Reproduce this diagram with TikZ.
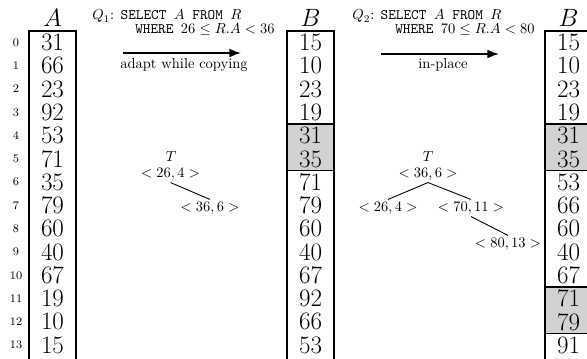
\documentclass[tikz,border=0pt]{standalone}
\usetikzlibrary{arrows.meta}
\begin{document}
\begin{tikzpicture}[x=0.69pt,y=-0.69pt,
  colbox/.style={line width=1pt},
  hl/.style={fill=gray!35,draw,line width=1pt},
  val/.style={font=\LARGE,inner sep=0pt},
  idx/.style={font=\footnotesize,inner sep=0pt},
  hdr/.style={font=\LARGE,inner sep=0pt},
  tl/.style={inner sep=1.5pt},
  tedge/.style={line width=0.6pt},
  bigarrow/.style={line width=1pt,-{Latex[length=8pt,width=6pt]}},
  qtext/.style={anchor=base west,inner sep=0pt,align=left},
  albl/.style={anchor=base,inner sep=0pt},
]
\path[use as bounding box] (0,0) rectangle (587,358);
\clip (0,0) rectangle (587,358);

% highlighted ranges
\path[hl] (287,124.1) rectangle (334,170.6);
\path[hl] (545,124.1) rectangle (600,170.6);
\path[hl] (545,287) rectangle (600,333.5);

% column boxes
\draw[colbox] (29,365) -- (29,31) -- (76,31) -- (76,365);
\draw[colbox] (287,365) -- (287,31) -- (334,31) -- (334,365);
\draw[colbox] (545,365) -- (545,31) -- (592,31) -- (592,365);

% headers
\node[hdr] (hA) at (52.5,18) {$A$};
\node[hdr] (hB) at (310.5,18) {$B$};
\node[hdr] (hC) at (568.5,18) {$B$};

% values
\foreach \v [count=\i from 0] in {31,66,23,92,53,71,35,79,60,40,67,19,10,15}
  \node[val] (a\i) at (52.5,{42.6+23.27*\i}) {\v};
\foreach \v [count=\i from 0] in {15,10,23,19,31,35,71,79,60,40,67,92,66,53}
  \node[val] (b\i) at (310.5,{42.6+23.27*\i}) {\v};
\foreach \v [count=\i from 0] in {15,10,23,19,31,35,53,66,60,40,67,71,79,91}
  \node[val] (c\i) at (568.5,{42.6+23.27*\i}) {\v};
\foreach \i in {0,...,13}
  \node[idx] (i\i) at (16,{42.6+23.27*\i}) {\i};

% queries
\node[qtext] (q1) at (92,33) {$Q_1$: \texttt{SELECT $A$ FROM $R$}\\[-3pt]
  \hspace*{29.7pt}\texttt{WHERE $26\leq R.A<36$}};
\node[qtext] (q2) at (352,33) {$Q_2$: \texttt{SELECT $A$ FROM $R$}\\[-3pt]
  \hspace*{29.7pt}\texttt{WHERE $70\leq R.A<80$}};

% arrows
\coordinate (s1) at (123,53);
\coordinate (e1) at (241,53);
\draw[bigarrow] (s1) -- (e1);
\node[albl] (l1) at (184,68) {adapt while copying};
\coordinate (s2) at (381,54);
\coordinate (e2) at (499,54);
\draw[bigarrow] (s2) -- (e2);
\node[albl] (l2) at (443,68) {in-place};

% tree 1
\node[tl] (t1) at (171,157) {$T$};
\node[tl] (r1) at (170.5,174) {$<26,4>$};
\node[tl] (r1r) at (210,208) {$<36,6>$};
\draw[tedge] (r1.south) -- (r1r.north);

% tree 2
\node[tl] (t2) at (428,157) {$T$};
\node[tl] (r2) at (428,174) {$<36,6>$};
\node[tl] (r2l) at (388,208) {$<26,4>$};
\node[tl] (r2r) at (471,208) {$<70,11>$};
\node[tl] (r2rr) at (508,244) {$<80,13>$};
\draw[tedge] (r2.south) -- (r2l.north);
\draw[tedge] (r2.south) -- (r2r.north);
\draw[tedge] (r2r.south) -- (r2rr.north);
\end{tikzpicture}
\end{document}
